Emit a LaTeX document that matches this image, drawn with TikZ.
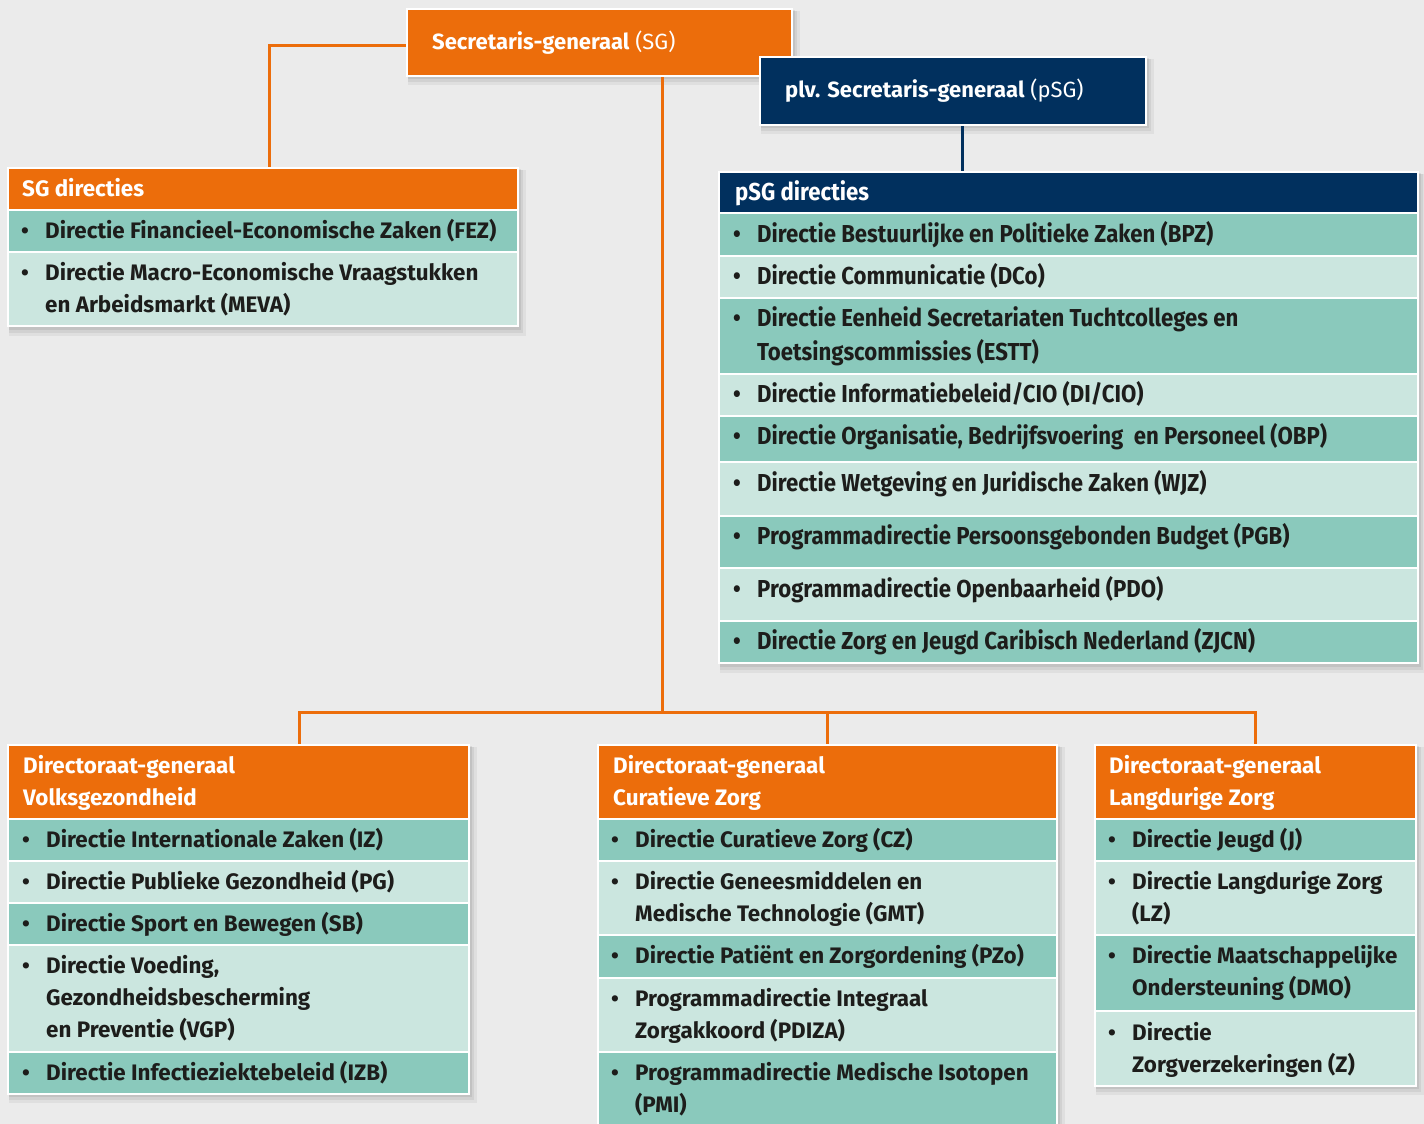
\documentclass[tikz,border=0pt]{standalone}
\usepackage{fontspec}
\setmainfont{Fira Sans}
\newfontfamily\condfont[FakeStretch=0.905]{Fira Sans}
\definecolor{rgorange}{HTML}{EC6D0B}
\definecolor{rgnavy}{HTML}{01305E}
\definecolor{tdark}{HTML}{8AC9BC}
\definecolor{tlight}{HTML}{CBE6DF}
\definecolor{bggrey}{HTML}{EBEBEB}
\definecolor{txtdark}{HTML}{1D1D1B}
\newcommand\itemfont{\fontsize{22.4}{32}\selectfont\bfseries}
\newcommand\condsize{\condfont\fontsize{24.5}{34}\selectfont\bfseries}
\newcommand\headfont{\fontsize{22.4}{32}\selectfont\bfseries}
\newcommand\boxnode[5]{\node[panel, minimum width={(#4-#2)*1pt}, minimum height={(#5-#3)*1pt}] (#1) at (#2,#3) {};}
\newcommand\rowfill[5]{\filldraw[fill=#1, draw=white, line width=2pt] (#2,#3) rectangle (#4,#5);}
\newcommand\shad[4]{%
  \fill[black, opacity=0.05] (#1+1,#2+2) rectangle (#3+8,#4+9);
  \fill[black, opacity=0.06] (#1+1,#2+2) rectangle (#3+5,#4+6);
  \fill[black, opacity=0.07] (#1+1,#2+1) rectangle (#3+3,#4+3);}
\newcommand\itm[5][\itemfont]{\node[itemtxt, font=#1] (#2) at (#3,#4) {\parbox[t]{700pt}{\hangindent=20pt\hangafter=1\noindent\makebox[20pt][l]{\kern-4pt\textbullet}#5}};}
\newcommand\hdr[5][\headfont]{\node[headtxt, font=#1] (#2) at (#3,#4) {\parbox[t]{700pt}{\noindent #5}};}
\tikzset{
  panel/.style={anchor=north west, inner sep=0pt, outer sep=0pt, fill=white},
  itemtxt/.style={anchor=base west, inner sep=0pt, text=txtdark, yshift=-8.3pt},
  headtxt/.style={anchor=base west, inner sep=0pt, text=white, yshift=-8.3pt},
  oline/.style={draw=rgorange, line width=3pt},
  nline/.style={draw=rgnavy, line width=3pt},
}
\begin{document}
\begin{tikzpicture}[x=1pt,y=-1pt]
\useasboundingbox (0,0) rectangle (1424,1124);
\fill[bggrey] (0,0) rectangle (1424,1124);

% ---- shadows
\shad{407}{9}{792}{76}
\shad{760}{57}{1146}{125}
\shad{8}{168}{518}{327}
\shad{719}{172}{1418}{664}
\shad{8}{745}{469}{1094}
\shad{598}{745}{1057}{1130}
\shad{1095}{745}{1416}{1086}

% ---- panels
\boxnode{sg}{407}{9}{792}{76}
\boxnode{psg}{760}{57}{1146}{125}
\boxnode{sgd}{8}{168}{518}{327}
\boxnode{psgd}{719}{172}{1418}{664}
\boxnode{vg}{8}{745}{469}{1094}
\boxnode{cz}{598}{745}{1057}{1130}
\boxnode{lz}{1095}{745}{1416}{1086}

% ---- connectors
\coordinate (lk) at (269,46);
\coordinate (hub) at (662,712);
\coordinate (jv) at (299,712);
\coordinate (jc) at (827,712);
\coordinate (jl) at (1255,712);
\coordinate (pk) at (962,140);
\draw[oline] (sg.west |- lk) -- (lk) -- (sgd.north -| lk);
\draw[oline] (sg.south -| hub) -- (hub);
\draw[oline] (vg.north -| jv) -- (jv) -- (jl) -- (lz.north -| jl);
\draw[oline] (jc) -- (cz.north -| jc);
\draw[nline] (psg.south -| pk) -- (psgd.north -| pk);

% ---- SG box
\filldraw[fill=rgorange, draw=white, line width=2pt] (407,9) rectangle (792,76);
\node[headtxt, font=\fontsize{22}{32}\selectfont] (sgt) at (432,41) {\textbf{Secretaris-generaal} (SG)};

% ---- pSG box
\filldraw[fill=rgnavy, draw=white, line width=2pt] (760,57) rectangle (1146,125);
\node[headtxt, font=\fontsize{22}{32}\selectfont] (psgt) at (785,89) {\textbf{plv. Secretaris-generaal} (pSG)};

% ---- SG directies
\rowfill{rgorange}{8}{168}{518}{210}
\rowfill{tdark}{8}{210}{518}{252}
\rowfill{tlight}{8}{252}{518}{326}
\hdr{sgdh}{22}{188}{SG directies}
\itm{fez}{25}{230}{Directie Financieel-Economische Zaken (FEZ)}
\itm{meva}{25}{272}{Directie Macro-Economische Vraagstukken\\en Arbeidsmarkt (MEVA)}

% ---- pSG directies
\rowfill{rgnavy}{719}{172}{1418}{213}
\rowfill{tdark}{719}{213}{1418}{256}
\rowfill{tlight}{719}{256}{1418}{298}
\rowfill{tdark}{719}{298}{1418}{374}
\rowfill{tlight}{719}{374}{1418}{416}
\rowfill{tdark}{719}{416}{1418}{462}
\rowfill{tlight}{719}{462}{1418}{516}
\rowfill{tdark}{719}{516}{1418}{568}
\rowfill{tlight}{719}{568}{1418}{621}
\rowfill{tdark}{719}{621}{1418}{663}
\hdr[\condsize]{psgdh}{735}{192}{pSG directies}
\itm[\condsize]{bpz}{737}{234}{Directie Bestuurlijke en Politieke Zaken (BPZ)}
\itm[\condsize]{dco}{737}{276}{Directie Communicatie (DCo)}
\itm[\condsize]{estt}{737}{318}{Directie Eenheid Secretariaten Tuchtcolleges en\\Toetsingscommissies (ESTT)}
\itm[\condsize]{dicio}{737}{394}{Directie Informatiebeleid/CIO (DI/CIO)}
\itm[\condsize]{obp}{737}{436}{Directie Organisatie, Bedrijfsvoering\ \ en Personeel (OBP)}
\itm[\condsize]{wjz}{737}{483}{Directie Wetgeving en Juridische Zaken (WJZ)}
\itm[\condsize]{pgb}{737}{536}{Programmadirectie Persoonsgebonden Budget (PGB)}
\itm[\condsize]{pdo}{737}{589}{Programmadirectie Openbaarheid (PDO)}
\itm[\condsize]{zjcn}{737}{641}{Directie Zorg en Jeugd Caribisch Nederland (ZJCN)}

% ---- DG Volksgezondheid
\rowfill{rgorange}{8}{745}{469}{819}
\rowfill{tdark}{8}{819}{469}{861}
\rowfill{tlight}{8}{861}{469}{903}
\rowfill{tdark}{8}{903}{469}{945}
\rowfill{tlight}{8}{945}{469}{1052}
\rowfill{tdark}{8}{1052}{469}{1094}
\hdr{vgh}{23}{765}{Directoraat-generaal\\Volksgezondheid}
\itm{iz}{26}{839}{Directie Internationale Zaken (IZ)}
\itm{pg}{26}{881}{Directie Publieke Gezondheid (PG)}
\itm{sb}{26}{923}{Directie Sport en Bewegen (SB)}
\itm{vgp}{26}{965}{Directie Voeding,\\Gezondheidsbescherming\\en Preventie (VGP)}
\itm{izb}{26}{1072}{Directie Infectieziektebeleid (IZB)}

% ---- DG Curatieve Zorg
\rowfill{rgorange}{598}{745}{1057}{819}
\rowfill{tdark}{598}{819}{1057}{861}
\rowfill{tlight}{598}{861}{1057}{935}
\rowfill{tdark}{598}{935}{1057}{978}
\rowfill{tlight}{598}{978}{1057}{1052}
\rowfill{tdark}{598}{1052}{1057}{1135}
\hdr{czh}{613}{765}{Directoraat-generaal\\Curatieve Zorg}
\itm{czz}{615}{839}{Directie Curatieve Zorg (CZ)}
\itm{gmt}{615}{881}{Directie Geneesmiddelen en\\Medische Technologie (GMT)}
\itm{pzo}{615}{955}{Directie Patiënt en Zorgordening (PZo)}
\itm{pdiza}{615}{998}{Programmadirectie Integraal\\Zorgakkoord (PDIZA)}
\itm{pmi}{615}{1072}{Programmadirectie Medische Isotopen\\(PMI)}

% ---- DG Langdurige Zorg
\rowfill{rgorange}{1095}{745}{1416}{819}
\rowfill{tdark}{1095}{819}{1416}{861}
\rowfill{tlight}{1095}{861}{1416}{935}
\rowfill{tdark}{1095}{935}{1416}{1011}
\rowfill{tlight}{1095}{1011}{1416}{1086}
\hdr{lzh}{1109}{765}{Directoraat-generaal\\Langdurige Zorg}
\itm{jj}{1112}{839}{Directie Jeugd (J)}
\itm{lzz}{1112}{881}{Directie Langdurige Zorg\\(LZ)}
\itm{dmo}{1112}{955}{Directie Maatschappelijke\\Ondersteuning (DMO)}
\itm{zz}{1112}{1032}{Directie\\Zorgverzekeringen (Z)}
\end{tikzpicture}
\end{document}
